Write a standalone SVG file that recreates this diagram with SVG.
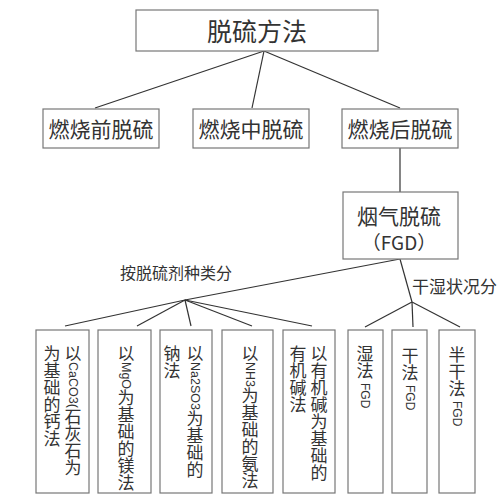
<svg xmlns="http://www.w3.org/2000/svg" width="500" height="495" viewBox="0 0 500 495">
<style>
.box{fill:#fff;stroke:#777;stroke-width:1.2}
.ln{stroke:#333;stroke-width:1.2;fill:none}
.t{font-family:"Noto Sans CJK SC","Liberation Serif",serif;fill:#333}
.v{font-family:"Noto Sans CJK SC",sans-serif;fill:#333;font-size:17px;writing-mode:vertical-rl}
.lat{font-family:"Liberation Sans","Noto Sans CJK SC",sans-serif;font-size:12.5px}
.fgd{font-family:"Liberation Sans",sans-serif;font-size:12px}
</style>
<rect width="500" height="495" fill="#fff"/>
<g id="connectors">
<line class="ln" x1="264" y1="51" x2="95" y2="108"/>
<line class="ln" x1="264" y1="51" x2="252" y2="108"/>
<line class="ln" x1="264" y1="51" x2="400" y2="108"/>
<line class="ln" x1="400" y1="148" x2="400" y2="192"/>
<line class="ln" x1="400" y1="259" x2="185" y2="300"/>
<line class="ln" x1="400" y1="259" x2="412" y2="302"/>
<line class="ln" x1="185" y1="300" x2="65" y2="326"/>
<line class="ln" x1="185" y1="300" x2="137" y2="326"/>
<line class="ln" x1="185" y1="300" x2="191" y2="326"/>
<line class="ln" x1="185" y1="300" x2="252" y2="326"/>
<line class="ln" x1="185" y1="300" x2="312" y2="326"/>
<line class="ln" x1="412" y1="302" x2="365" y2="327"/>
<line class="ln" x1="412" y1="302" x2="413" y2="327"/>
<line class="ln" x1="412" y1="302" x2="460" y2="327"/>
<text class="t" x="120" y="279" font-size="16">按脱硫剂种类分</text>
<text class="t" x="412" y="293" font-size="17">干湿状况分</text>
</g>
<g id="root">
<rect class="box" x="136" y="10" width="242" height="41"/>
<text class="t" x="257" y="41" font-size="25" text-anchor="middle">脱硫方法</text>
</g>
<g id="pre">
<rect class="box" x="43" y="109" width="116" height="39"/>
<text class="t" x="101" y="137" font-size="21" text-anchor="middle">燃烧前脱硫</text>
</g>
<g id="mid">
<rect class="box" x="193" y="109" width="116" height="39"/>
<text class="t" x="251" y="137" font-size="21" text-anchor="middle">燃烧中脱硫</text>
</g>
<g id="post">
<rect class="box" x="342" y="109" width="116" height="39"/>
<text class="t" x="400" y="137" font-size="21" text-anchor="middle">燃烧后脱硫</text>
</g>
<g id="fgd">
<rect class="box" x="343" y="192" width="115" height="67"/>
<text class="t" x="399" y="224" font-size="21" text-anchor="middle">烟气脱硫</text>
<text class="t" x="399" y="250" font-size="19" text-anchor="middle">（FGD）</text>
</g>
<g id="ca">
<rect class="box" x="36" y="330" width="53" height="163"/>
<text class="v" x="73" y="345">以<tspan class="lat">CaCO3(</tspan>石灰石为</text>
<text class="v" x="52" y="345">为基础的钙法</text>
</g>
<g id="mg">
<rect class="box" x="98" y="330" width="53" height="163"/>
<text class="v" x="126" y="345">以<tspan class="lat">MgO</tspan>为基础的镁法</text>
</g>
<g id="na">
<rect class="box" x="160" y="330" width="52" height="163"/>
<text class="v" x="195" y="345">以<tspan class="lat">Na2SO3</tspan>为基础的</text>
<text class="v" x="172" y="345">钠法</text>
</g>
<g id="nh">
<rect class="box" x="222" y="330" width="51" height="163"/>
<text class="v" x="250" y="345">以<tspan class="lat">NH3</tspan>为基础的氨法</text>
</g>
<g id="org">
<rect class="box" x="283" y="330" width="52" height="163"/>
<text class="v" x="319" y="345">以有机碱为基础的</text>
<text class="v" x="298" y="345">有机碱法</text>
</g>
<g id="wet">
<rect class="box" x="348" y="330" width="35" height="163"/>
<text class="v" x="365" y="345">湿法 <tspan class="fgd">FGD</tspan></text>
</g>
<g id="dry">
<rect class="box" x="392" y="330" width="35" height="163"/>
<text class="v" x="410" y="347">干法 <tspan class="fgd">FGD</tspan></text>
</g>
<g id="semi">
<rect class="box" x="439" y="330" width="36" height="163"/>
<text class="v" x="457" y="346">半干法 <tspan class="fgd">FGD</tspan></text>
</g>
</svg>
